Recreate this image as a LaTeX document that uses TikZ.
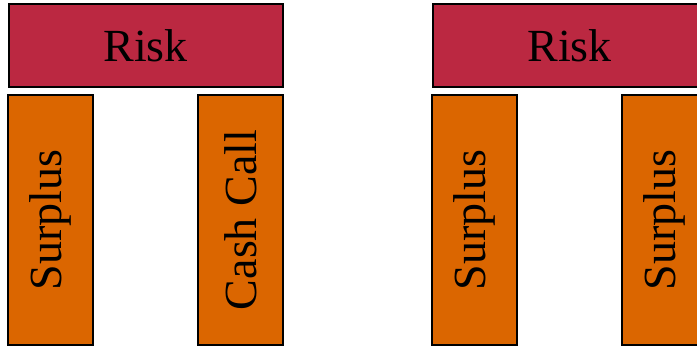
\documentclass[tikz,border=0pt]{standalone}
\usepackage{fontspec}
\setmainfont{Liberation Serif}
\definecolor{riskred}{HTML}{BB2841}
\definecolor{barorange}{HTML}{DB6600}
\tikzset{
  riskbox/.style={draw=black, line width=2pt, fill=riskred, minimum width=274pt, minimum height=83pt, inner sep=0pt, font=\fontsize{46}{50}\selectfont},
  barbox/.style={draw=black, line width=2pt, fill=barorange, minimum width=250pt, minimum height=85pt, inner sep=0pt, rotate=90, font=\fontsize{46}{50}\selectfont},
}
\begin{document}
\begin{tikzpicture}[x=1pt, y=1pt]
   % Sizes
   \pgfmathsetmacro{\shift}{424}
   \useasboundingbox (0,0) rectangle (697,346);
   % left group
   \node[riskbox] (riskA) at (145.5, 300) {Risk};
   \node[barbox] (surplusA) at (50.5, 126) {Surplus};
   \node[barbox] (cashA) at (240.5, 126) {Cash Call};

   % right group
   \node[riskbox] (riskB) at (145.5+\shift, 300) {Risk};
   \node[barbox] (surplusB) at (50.5+\shift, 126) {Surplus};
   \node[barbox] (surplusC) at (240.5+\shift, 126) {Surplus};
\end{tikzpicture}
\end{document}
